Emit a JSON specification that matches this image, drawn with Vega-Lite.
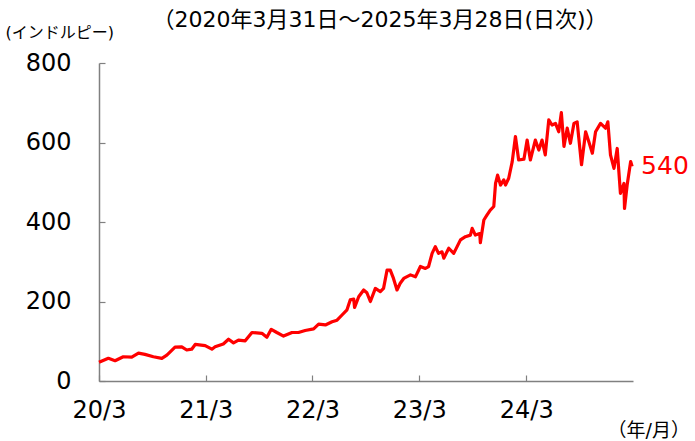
{
  "$schema": "https://vega.github.io/schema/vega-lite/v6.json",
  "width": 534,
  "height": 318,
  "autosize": "none",
  "padding": {"left": 99, "top": 63, "right": 62, "bottom": 60},
  "background": "white",
  "config": {
    "view": {"stroke": null},
    "font": "DejaVu Sans, Noto Sans CJK JP"
  },
  "title": {
    "text": "（2020年3月31日～2025年3月28日(日次)）",
    "anchor": "middle",
    "frame": "group",
    "dx": 14,
    "offset": -8,
    "fontSize": 22,
    "fontWeight": "normal",
    "color": "#000000",
    "font": "DejaVu Sans, Noto Sans CJK JP"
  },
  "data": {
    "values": [
      {"date": "2020/03/31", "value": 47},
      {"date": "2020/05/02", "value": 57},
      {"date": "2020/05/25", "value": 51},
      {"date": "2020/06/22", "value": 61},
      {"date": "2020/07/21", "value": 60},
      {"date": "2020/08/13", "value": 70},
      {"date": "2020/09/04", "value": 67},
      {"date": "2020/10/03", "value": 61},
      {"date": "2020/11/01", "value": 57},
      {"date": "2020/11/18", "value": 65},
      {"date": "2020/12/16", "value": 85},
      {"date": "2021/01/08", "value": 86},
      {"date": "2021/01/25", "value": 78},
      {"date": "2021/02/11", "value": 80},
      {"date": "2021/02/23", "value": 92},
      {"date": "2021/03/29", "value": 89},
      {"date": "2021/04/21", "value": 80},
      {"date": "2021/05/02", "value": 86},
      {"date": "2021/05/30", "value": 93},
      {"date": "2021/06/17", "value": 105},
      {"date": "2021/07/04", "value": 96},
      {"date": "2021/07/21", "value": 103},
      {"date": "2021/08/13", "value": 101},
      {"date": "2021/09/05", "value": 122},
      {"date": "2021/10/09", "value": 120},
      {"date": "2021/10/26", "value": 110},
      {"date": "2021/11/10", "value": 130},
      {"date": "2021/11/29", "value": 122},
      {"date": "2021/12/22", "value": 113},
      {"date": "2022/01/20", "value": 122},
      {"date": "2022/02/11", "value": 122},
      {"date": "2022/03/06", "value": 127},
      {"date": "2022/04/04", "value": 131},
      {"date": "2022/04/21", "value": 143},
      {"date": "2022/05/14", "value": 141},
      {"date": "2022/06/06", "value": 149},
      {"date": "2022/06/23", "value": 153},
      {"date": "2022/07/10", "value": 166},
      {"date": "2022/07/27", "value": 179},
      {"date": "2022/08/07", "value": 204},
      {"date": "2022/08/19", "value": 206},
      {"date": "2022/08/22", "value": 185},
      {"date": "2022/09/05", "value": 212},
      {"date": "2022/09/22", "value": 229},
      {"date": "2022/10/03", "value": 222},
      {"date": "2022/10/15", "value": 200},
      {"date": "2022/11/01", "value": 233},
      {"date": "2022/11/18", "value": 225},
      {"date": "2022/11/29", "value": 233},
      {"date": "2022/12/11", "value": 279},
      {"date": "2022/12/22", "value": 279},
      {"date": "2023/01/02", "value": 258},
      {"date": "2023/01/14", "value": 229},
      {"date": "2023/01/25", "value": 246},
      {"date": "2023/02/06", "value": 258},
      {"date": "2023/03/01", "value": 267},
      {"date": "2023/03/18", "value": 262},
      {"date": "2023/04/04", "value": 288},
      {"date": "2023/04/21", "value": 283},
      {"date": "2023/05/02", "value": 288},
      {"date": "2023/05/14", "value": 321},
      {"date": "2023/05/25", "value": 338},
      {"date": "2023/06/05", "value": 321},
      {"date": "2023/06/17", "value": 325},
      {"date": "2023/06/23", "value": 309},
      {"date": "2023/07/10", "value": 334},
      {"date": "2023/07/27", "value": 321},
      {"date": "2023/08/19", "value": 355},
      {"date": "2023/09/05", "value": 363},
      {"date": "2023/09/22", "value": 367},
      {"date": "2023/09/28", "value": 384},
      {"date": "2023/10/09", "value": 367},
      {"date": "2023/10/24", "value": 371},
      {"date": "2023/10/26", "value": 348},
      {"date": "2023/11/07", "value": 405},
      {"date": "2023/11/18", "value": 418},
      {"date": "2023/11/29", "value": 430},
      {"date": "2023/12/11", "value": 439},
      {"date": "2023/12/17", "value": 497},
      {"date": "2023/12/24", "value": 518},
      {"date": "2024/01/03", "value": 493},
      {"date": "2024/01/14", "value": 506},
      {"date": "2024/01/20", "value": 493},
      {"date": "2024/01/31", "value": 510},
      {"date": "2024/02/12", "value": 552},
      {"date": "2024/02/23", "value": 615},
      {"date": "2024/03/05", "value": 556},
      {"date": "2024/03/23", "value": 558},
      {"date": "2024/04/03", "value": 606},
      {"date": "2024/04/14", "value": 556},
      {"date": "2024/05/01", "value": 606},
      {"date": "2024/05/13", "value": 581},
      {"date": "2024/05/24", "value": 606},
      {"date": "2024/06/04", "value": 569},
      {"date": "2024/06/16", "value": 657},
      {"date": "2024/06/27", "value": 644},
      {"date": "2024/07/09", "value": 648},
      {"date": "2024/07/20", "value": 627},
      {"date": "2024/07/29", "value": 675},
      {"date": "2024/08/07", "value": 590},
      {"date": "2024/08/18", "value": 636},
      {"date": "2024/08/29", "value": 598},
      {"date": "2024/09/10", "value": 648},
      {"date": "2024/09/21", "value": 652},
      {"date": "2024/10/06", "value": 544},
      {"date": "2024/10/20", "value": 627},
      {"date": "2024/10/31", "value": 602},
      {"date": "2024/11/12", "value": 573},
      {"date": "2024/11/23", "value": 627},
      {"date": "2024/12/10", "value": 648},
      {"date": "2024/12/27", "value": 636},
      {"date": "2025/01/04", "value": 652},
      {"date": "2025/01/13", "value": 569},
      {"date": "2025/01/25", "value": 535},
      {"date": "2025/02/05", "value": 585},
      {"date": "2025/02/16", "value": 472},
      {"date": "2025/02/28", "value": 497},
      {"date": "2025/03/02", "value": 434},
      {"date": "2025/03/11", "value": 493},
      {"date": "2025/03/23", "value": 552},
      {"date": "2025/03/28", "value": 540}
    ]
  },
  "encoding": {
    "x": {
      "field": "date",
      "type": "temporal",
      "scale": {"domain": [{"year": 2020, "month": 3, "date": 31}, {"year": 2025, "month": 3, "date": 31}]},
      "axis": {
        "values": [
          {"year": 2020, "month": 3, "date": 31},
          {"year": 2021, "month": 3, "date": 31},
          {"year": 2022, "month": 3, "date": 31},
          {"year": 2023, "month": 3, "date": 31},
          {"year": 2024, "month": 3, "date": 31}
        ],
        "format": "%y/%-m",
        "grid": false,
        "domainColor": "#808080",
        "domainWidth": 1.5,
        "tickColor": "#808080",
        "tickWidth": 1.2,
        "tickSize": -6,
        "labelPadding": 23,
        "labelFontSize": 24,
        "labelColor": "#000000",
        "labelFlush": false,
        "labelBaseline": "top",
        "title": "（年/月）",
        "titleFontSize": 19,
        "titleFontWeight": "normal",
        "titleColor": "#000000",
        "titleAngle": 0,
        "titleAlign": "left",
        "titleBaseline": "middle",
        "titleAnchor": null,
        "titleX": 508,
        "titleY": 49
      }
    },
    "y": {
      "field": "value",
      "type": "quantitative",
      "scale": {"domain": [0, 800], "nice": false},
      "axis": {
        "values": [0, 200, 400, 600, 800],
        "grid": false,
        "domainColor": "#808080",
        "domainWidth": 1.5,
        "tickColor": "#808080",
        "tickWidth": 1.2,
        "tickSize": -6,
        "labelPadding": 34,
        "labelFontSize": 24,
        "labelColor": "#000000",
        "labelFlush": false,
        "title": "(インドルピー)",
        "titleFontSize": 16,
        "titleFontWeight": "normal",
        "titleColor": "#000000",
        "titleAngle": 0,
        "titleAlign": "left",
        "titleBaseline": "middle",
        "titleAnchor": null,
        "titleX": -94,
        "titleY": -31
      }
    }
  },
  "layer": [
    {
      "mark": {"type": "line", "color": "#FF0000", "strokeWidth": 3.2, "strokeJoin": "round"}
    },
    {
      "transform": [{"filter": {"field": "date", "timeUnit": "yearmonthdate", "equal": {"year": 2025, "month": 3, "date": 28}}}],
      "mark": {"type": "text", "align": "left", "baseline": "middle", "dx": 9, "fontSize": 25, "color": "#FF0000"},
      "encoding": {"text": {"field": "value", "type": "quantitative"}}
    }
  ]
}
